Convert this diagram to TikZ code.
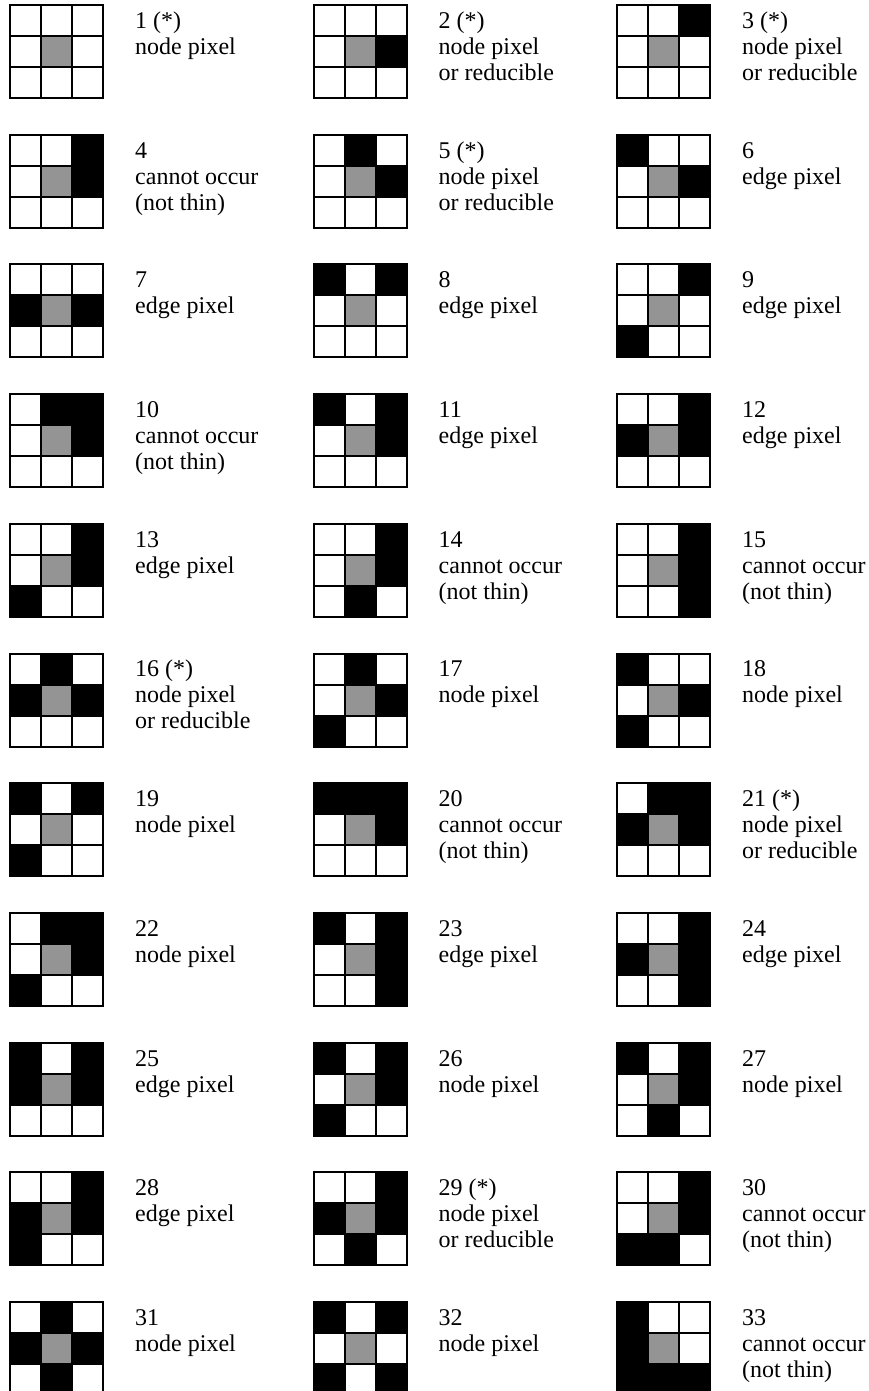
\documentclass[tikz,border=0pt]{standalone}
\usepackage{fontspec}
\setmainfont{Liberation Serif}
\usepackage{tikz}

% one 3x3 neighbourhood: #1 column, #2 row, #3 black cells (row/col), #4 text
\newcommand{\pixpattern}[4]{%
  \begin{scope}[shift={({10+303.5*#1},{5+129.7*#2})}]
    \fill[graycell] (31,31) rectangle (62,62);
    \foreach \r/\c in {#3} {\fill[blackcell] ({31*\c},{31*\r}) rectangle ++(31,31);}
    \foreach \k in {31,62} {
      \draw[gridline] (\k,0) -- (\k,93);
      \draw[gridline] (0,\k) -- (93,\k);
    }
    \draw[gridline] (0,0) rectangle (93,93);
    \node[caption] (lbl-#1-#2) at (125,5) {\strut#4};
  \end{scope}}

\begin{document}
\begin{tikzpicture}[
  x=1pt, y=-1pt,
  gridline/.style={draw=black, line width=2pt},
  graycell/.style={fill=black!42},
  blackcell/.style={fill=black},
  caption/.style={
    anchor=north west,
    align=left,
    inner sep=0pt,
    font=\fontsize{24}{26}\selectfont
  }
]
  \useasboundingbox (0,0) rectangle (868,1391);

  % Row 1
  \pixpattern{0}{0}{}{1 (*)\\node pixel}
  \pixpattern{1}{0}{1/2}{2 (*)\\node pixel\\or reducible}
  \pixpattern{2}{0}{0/2}{3 (*)\\node pixel\\or reducible}
  % Row 2
  \pixpattern{0}{1}{0/2,1/2}{4\\cannot occur\\(not thin)}
  \pixpattern{1}{1}{0/1,1/2}{5 (*)\\node pixel\\or reducible}
  \pixpattern{2}{1}{0/0,1/2}{6\\edge pixel}
  % Row 3
  \pixpattern{0}{2}{1/0,1/2}{7\\edge pixel}
  \pixpattern{1}{2}{0/0,0/2}{8\\edge pixel}
  \pixpattern{2}{2}{0/2,2/0}{9\\edge pixel}
  % Row 4
  \pixpattern{0}{3}{0/1,0/2,1/2}{10\\cannot occur\\(not thin)}
  \pixpattern{1}{3}{0/0,0/2,1/2}{11\\edge pixel}
  \pixpattern{2}{3}{0/2,1/0,1/2}{12\\edge pixel}
  % Row 5
  \pixpattern{0}{4}{0/2,1/2,2/0}{13\\edge pixel}
  \pixpattern{1}{4}{0/2,1/2,2/1}{14\\cannot occur\\(not thin)}
  \pixpattern{2}{4}{0/2,1/2,2/2}{15\\cannot occur\\(not thin)}
  % Row 6
  \pixpattern{0}{5}{0/1,1/0,1/2}{16 (*)\\node pixel\\or reducible}
  \pixpattern{1}{5}{0/1,1/2,2/0}{17\\node pixel}
  \pixpattern{2}{5}{0/0,1/2,2/0}{18\\node pixel}
  % Row 7
  \pixpattern{0}{6}{0/0,0/2,2/0}{19\\node pixel}
  \pixpattern{1}{6}{0/0,0/1,0/2,1/2}{20\\cannot occur\\(not thin)}
  \pixpattern{2}{6}{0/1,0/2,1/0,1/2}{21 (*)\\node pixel\\or reducible}
  % Row 8
  \pixpattern{0}{7}{0/1,0/2,1/2,2/0}{22\\node pixel}
  \pixpattern{1}{7}{0/0,0/2,1/2,2/2}{23\\edge pixel}
  \pixpattern{2}{7}{0/2,1/0,1/2,2/2}{24\\edge pixel}
  % Row 9
  \pixpattern{0}{8}{0/0,0/2,1/0,1/2}{25\\edge pixel}
  \pixpattern{1}{8}{0/0,0/2,1/2,2/0}{26\\node pixel}
  \pixpattern{2}{8}{0/0,0/2,1/2,2/1}{27\\node pixel}
  % Row 10
  \pixpattern{0}{9}{0/2,1/0,1/2,2/0}{28\\edge pixel}
  \pixpattern{1}{9}{0/2,1/0,1/2,2/1}{29 (*)\\node pixel\\or reducible}
  \pixpattern{2}{9}{0/2,1/2,2/0,2/1}{30\\cannot occur\\(not thin)}
  % Row 11
  \pixpattern{0}{10}{0/1,1/0,1/2,2/1}{31\\node pixel}
  \pixpattern{1}{10}{0/0,0/2,2/0,2/2}{32\\node pixel}
  \pixpattern{2}{10}{0/0,1/0,2/0,2/1,2/2}{33\\cannot occur\\(not thin)}
\end{tikzpicture}
\end{document}
